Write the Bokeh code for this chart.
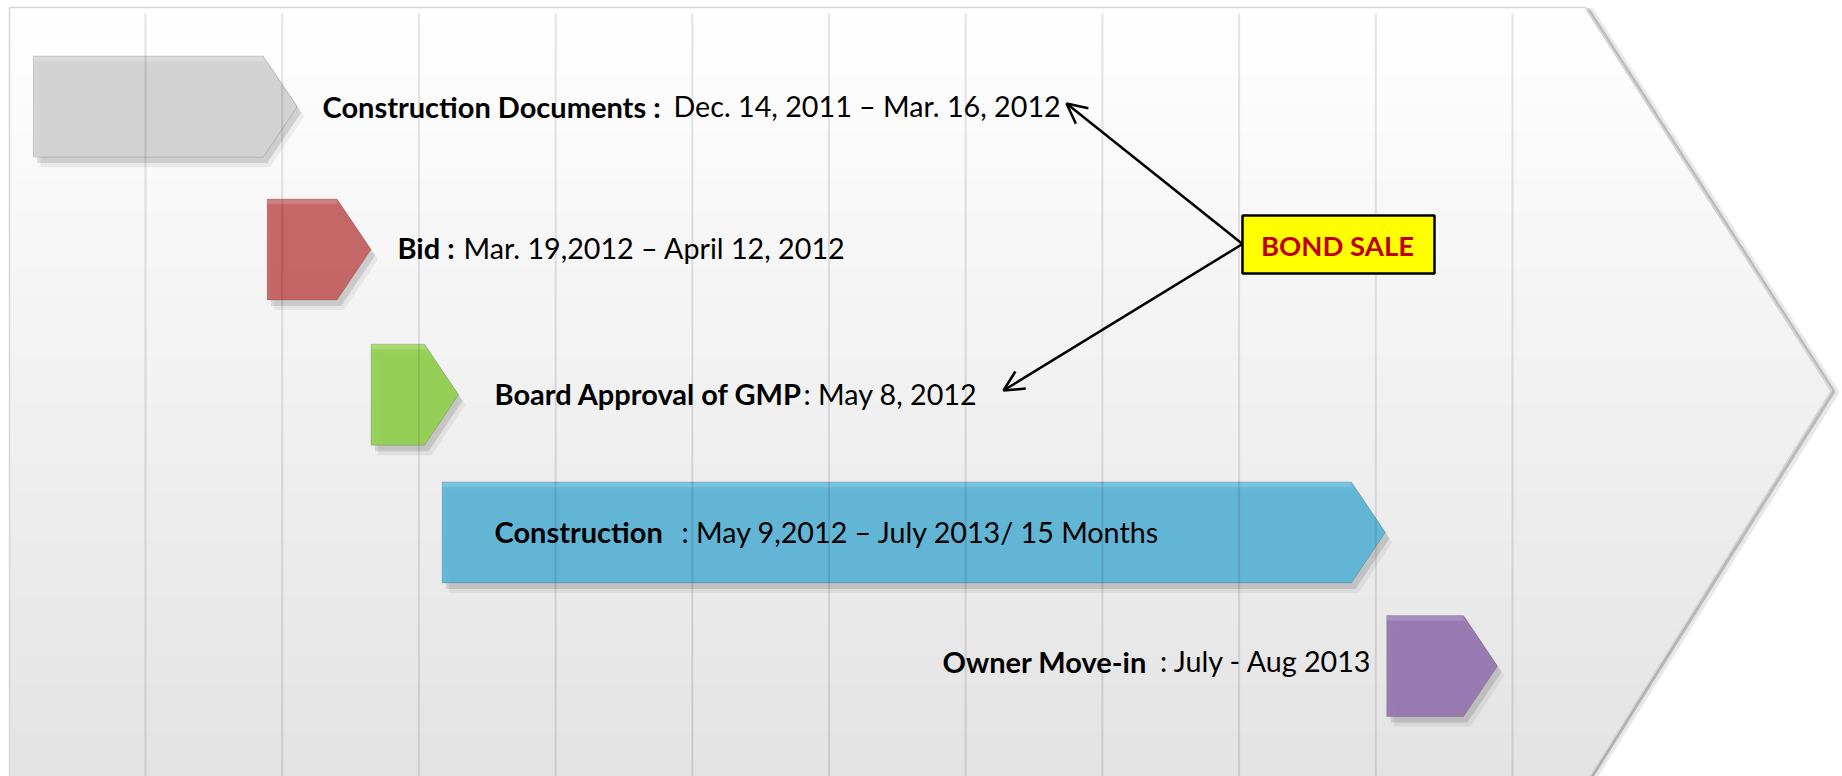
from bokeh.plotting import figure
from bokeh.models import Range1d, Arrow, OpenHead
from bokeh.core.properties import value
from bokeh.embed import file_html
from bokeh.resources import INLINE

# ---------------- data ----------------
tasks = ["Construction Documents", "Bid", "Board Approval of GMP", "Construction", "Owner Move-in"]
bold_labels = ["Construction Documents :", "Bid :", "Board Approval of GMP", "Construction", "Owner Move-in"]
detail_labels = ["Dec. 14, 2011 \u2013 Mar. 16, 2012", "Mar. 19,2012 \u2013 April 12, 2012",
                 ": May 8, 2012", ": May 9,2012 \u2013 July 2013/ 15 Months", ": July - Aug 2013"]
# schematic timeline position of each phase, in grid columns
bar_start = [0.18, 1.89, 2.65, 3.17, 10.08]
bar_end = [2.11, 2.65, 3.29, 10.07, 10.89]
lane = [0, 1, 2, 3, 4]
bar_colors = ["#d2d2d2", "#c45f5f", "#92d050", "#5ab4d6", "#9474ae"]
grid_columns = [1, 2, 3, 4, 5, 6, 7, 8, 9, 10, 11]
callout_text = "BOND SALE"
callout_targets = [0, 2]  # lanes the bond sale points to

# ---------------- layout helpers ----------------
W, H = 1842, 776
SX = 136.7        # px per grid column
SY = 139.9        # px per lane
X0 = 8.3          # px of grid column 0
Y0 = 109.6        # px of lane 0
lane_dy_px = [-3.5, -0.5, 4.8, 2.6, -3.6]      # fine vertical placement of each lane
label_dy_px = [-0.6, -1.6, -0.8, -0.7, -5.0]   # label offset from its lane


def ux(px):
    return (px - X0) / SX


def uy(py):
    return (py - Y0) / SY


lane_y = [l + d / SY for l, d in zip(lane, lane_dy_px)]

p = figure(width=W, height=H, x_range=Range1d(ux(0), ux(W)),
           y_range=Range1d(uy(H), uy(0)),
           output_backend="svg", toolbar_location=None, min_border=0,
           x_axis_location=None, y_axis_location=None,
           background_fill_color="white", border_fill_color="white",
           outline_line_color=None)
p.grid.visible = False

# ---- background chevron with vertical gradient ----
N = 80
top, bot = 7, 780
step = (bot - top) / N
lefts, rights, tops, bots, cols = [], [], [], [], []
for k in range(N):
    y0 = top + k * step
    y1 = y0 + step + 1
    t = (y0 + step / 2 - top) / (776 - top)
    c = int(round(255 - 28 * min(t, 1.0)))
    cols.append("#%02x%02x%02x" % (c, c, c))
    lefts.append(ux(9)); rights.append(ux(1850))
    tops.append(uy(y0)); bots.append(uy(min(y1, bot)))
p.quad(left=lefts, right=rights, top=tops, bottom=bots, fill_color=cols, line_color=None)

# cut out outside the arrow point
cut_x = [[ux(1585), ux(1855), ux(1855), ux(1831)],
         [ux(1831), ux(1855), ux(1855), ux(1587)]]
cut_y = [[uy(7), uy(7), uy(390), uy(390)],
         [uy(390), uy(390), uy(785), uy(785)]]
p.patches(cut_x, cut_y, fill_color="white", line_color=None)

# shadow on the point
for off, w, a in [(4, 7, 0.16), (2, 3.5, 0.38)]:
    p.line([ux(1585 + off), ux(1831 + off), ux(1587 + off)],
           [uy(7 + off / 2), uy(390 + off / 2), uy(780)],
           line_color="#6e6e6e", line_width=w, line_alpha=a)
# outline
p.line([ux(9), ux(9), ux(1585), ux(1831), ux(1587)],
       [uy(780), uy(7), uy(7), uy(390), uy(780)],
       line_color="#d6d6d6", line_width=1.5)

# ---- phase arrows ----
HH = 50.5 / SY
TIP = 34 / SX


def arrow_shape(s, e, l, dx=0.0, dy=0.0):
    xs = [s, e - TIP, e, e - TIP, s]
    ys = [l - HH, l - HH, l, l + HH, l + HH]
    return [x + dx for x in xs], [y + dy for y in ys]


for (ox, oy, a) in [(7, 10, 0.06), (4, 6, 0.12)]:
    sx, sy = [], []
    for s, e, l in zip(bar_start, bar_end, lane_y):
        xs, ys = arrow_shape(s, e, l, ox / SX, oy / SY)
        sx.append(xs); sy.append(ys)
    p.patches(sx, sy, fill_color="black", fill_alpha=a, line_color=None)

bx, by = [], []
for s, e, l in zip(bar_start, bar_end, lane_y):
    xs, ys = arrow_shape(s, e, l)
    bx.append(xs); by.append(ys)
p.patches(bx, by, fill_color=bar_colors, fill_alpha=0.93, line_color="black", line_alpha=0.15, line_width=1)

# lighter top edge
p.quad(left=[s for s in bar_start], right=[e - TIP for e in bar_end],
       top=[l - HH for l in lane_y], bottom=[l - HH + 5 / SY for l in lane_y],
       fill_color="white", fill_alpha=0.14, line_color=None)

# ---- grid columns ----
p.segment(x0=grid_columns, x1=grid_columns, y0=[uy(13)] * len(grid_columns),
          y1=[uy(780)] * len(grid_columns), line_color="black", line_alpha=0.105, line_width=2)

# ---- bond sale callout ----
p.quad(left=[ux(1242)], right=[ux(1434)], top=[uy(215)], bottom=[uy(273)],
       fill_color="#ffff00", line_color="black", line_width=2.5)
p.text(x=[ux(1337)], y=[uy(245)], text=[callout_text], text_font=value("Lato"),
       text_font_size="27.5px", text_font_style="bold", text_color="#c00000",
       text_align="center", text_baseline="middle")

targets = {0: (1066, 103), 2: (1003, 390)}
for ln in callout_targets:
    tx, ty = targets[ln]
    p.add_layout(Arrow(end=OpenHead(size=20, line_width=2.5, line_color="black"),
                       x_start=ux(1242), y_start=uy(243.5), x_end=ux(tx), y_end=uy(ty),
                       line_width=2.5, line_color="black"))

# ---- labels ----
bold_x_px = [322, 397, 494, 494, 942]
detail_x_px = [673, 463, 803, 681, 1159.5]
label_y = [l + d / SY for l, d in zip(lane_y, label_dy_px)]
p.text(x=[ux(v) for v in bold_x_px], y=label_y, text=bold_labels, text_font=value("Lato"),
       text_font_size="29px", text_font_style="bold", text_color="black",
       text_align="left", text_baseline="middle")
p.text(x=[ux(v) for v in detail_x_px], y=label_y, text=detail_labels, text_font=value("Lato"),
       text_font_size="28.7px", text_color="black",
       text_align="left", text_baseline="middle")

open("out.html", "w").write(file_html(p, INLINE))
